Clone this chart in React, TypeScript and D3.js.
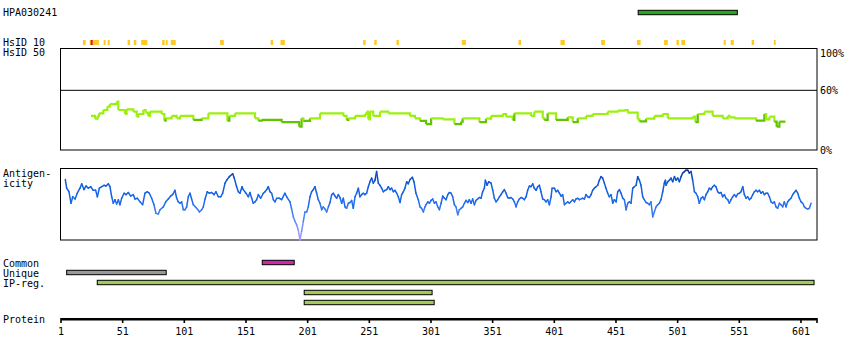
import * as d3 from 'd3'

// protein axis
const proteinTicks = [1, 51, 101, 151, 201, 251, 301, 351, 401, 451, 501, 551, 601]
const proteinEnd = 614

// HPA030241 antigen position
const antigenRange = [469, 549.4]

// HsID 10 hits (residue ranges)
const hsid10Yellow = [
  [18.8, 21], [24.3, 25.1], [26.7, 31.7], [35.6, 37.2], [38.8, 40.5], [55, 57], [60, 62], [66, 71],
  [83, 85], [86, 87.5], [90, 94], [130, 133], [171, 173], [179, 182.5], [246, 248], [255, 257],
  [273, 275], [326, 329.3], [372, 374], [406, 409.5], [439, 442], [468, 471], [490, 493],
  [500, 502], [504, 507], [538.4, 540], [544, 546.5], [561, 563], [579, 580.5]
]
const hsid10Red = [[25.1, 26.7]]

// HsID 50 identity trace (%), step values
const identityPos = [
  25.3, 28.6, 30.7, 31.8, 35.3, 38.6, 40.7, 46.1, 47.5, 52.9, 54.2, 59.6, 62.4, 63.7, 67.8, 69.6,
  71.8, 73.2, 82.6, 84.8, 85.9, 90.7, 94.8, 97.5, 108.3, 115.1, 120.5, 135.9, 137.5, 142.1, 158.3,
  161, 163.7, 179.9, 194.2, 196.1, 197.5, 202.9, 211, 229.9, 232.6, 234, 239.4, 247.5, 248.8,
  250.2, 251.5, 254.2, 259.6, 266.4, 284, 288, 292.1, 297, 301.1, 310.5, 320, 325.4, 326.7,
  340.2, 345.6, 349.7, 359.2, 361.9, 367.3, 368.6, 382.1, 384.8, 391.6, 392.9, 395.6, 402.4,
  411.9, 415.9, 420, 426.7, 432.1, 444.3, 452.4, 457.8, 460.5, 468.6, 470, 475.4, 482.1, 488.9,
  493, 513.2, 515.4, 517.3, 522.7, 529.4, 537.5, 541.6, 543, 547, 564.6, 571.3, 572.7, 575.4,
  579.4, 581.3, 583.5, 588.4
]
const identityVal = [
  34.2, 31.5, 34.2, 36.9, 40.2, 43.6, 46.2, 48.6, 40.2, 36.2, 40.9, 38.5, 33.5, 36.2, 40.2, 37.5,
  34.2, 38.5, 36.2, 29.5, 31.8, 34.2, 31.8, 34.2, 30.2, 31.8, 36.9, 29.5, 34.2, 36.9, 31.8,
  29.5, 30.2, 28.1, 23.4, 31.8, 29.2, 31.8, 36.9, 34.2, 30.2, 31.8, 34.2, 36.2, 38.5,
  30.8, 38.5, 34.2, 38.5, 36.9, 34.2, 31.8, 29.2, 26.1, 31.8, 30.8, 26.1, 28.5, 31.8,
  28.1, 31.5, 34.2, 36.2, 33.5, 30.2, 36.9, 34.2, 38.5, 31.8, 30.2, 36.9, 30.2,
  32.8, 28.1, 31.8, 34.2, 36.2, 38.5, 39.5, 40.2, 37.5, 30.8, 28.8, 31.5, 34.2, 36.2,
  31.8, 33.5, 28.1, 36.2, 38.5, 34.2, 31.8, 34.2, 32.8, 31.8, 29.5, 36.2, 30.8, 33.5,
  28.5, 23.4, 28.5, 28.5
]

// antigenicity trace (relative score 0-100)
const antigenPos = [
  4.5, 5.6, 7.5, 9.1, 10.5, 12.4, 14.2, 16.4, 17.8, 19.6, 21.3, 23.2, 25.1, 27.2, 29.1, 30.5, 32.1,
  34, 35.9, 37.5, 39.4, 40.7, 42.1, 43.4, 44.8, 46.1, 47.5, 48.8, 50.2, 52.1, 53.7, 55.6, 57.5,
  59.6, 61, 62.9, 65.1, 67.2, 69.1, 71, 72.6, 74.5, 76.4, 78, 79.9, 81.3, 84, 85.9, 88, 89.9,
  91.5, 93.4, 94.8, 96.1, 97.5, 98.8, 100.2, 101.5, 102.9, 104.2, 105.6, 106.9, 108.3, 111,
  113.2, 115.1, 116.4, 117.8, 119.6, 121.3, 123.2, 125.1, 126.7, 128.6, 130.5, 132.1, 134,
  135.3, 137.5, 140.2, 141.5, 143.4, 144.8, 146.1, 147.8, 148.8, 151, 152.9, 154.2, 155.6,
  156.9, 158.3, 159.6, 161, 162.9, 165.1, 166.4, 167.8, 169.1, 170.5, 171.8, 173.2, 174.5,
  175.9, 178, 179.9, 182.6, 184, 186.7, 188, 189.4, 190.7, 192.1, 193.4, 194.8, 196.1, 197.5,
  198.8, 200.2, 201.5, 202.9, 204.2, 205.6, 206.9, 208.3, 209.6, 211, 212.4, 213.7, 215.1,
  216.4, 217.8, 219.1, 220.5, 221.8, 223.2, 224.5, 225.9, 227.2, 228.6, 229.9, 231.3, 232.6,
  234, 235.3, 236.7, 238, 239.4, 240.7, 242.1, 243.4, 244.8, 246.1, 247.5, 248.8, 250.2,
  251.5, 252.9, 254.2, 255.6, 256.9, 258.3, 259.6, 261, 262.4, 263.7, 265.1, 266.4, 267.8,
  269.1, 270.5, 271.8, 273.2, 274.5, 275.9, 277.2, 278.6, 279.9, 281.3, 282.6, 284, 285.9,
  287.2, 288.8, 290.7, 292.1, 293.4, 294.8, 296.1,
  297, 298.4, 299.7, 301.1, 302.4, 303.8, 305.1, 306.5, 307.8, 309.2, 310.5, 311.9, 313.2,
  314.6, 315.9, 317.3, 318.6, 320, 321.3, 322.7, 324, 325.4, 326.7, 328.1, 329.4, 330.8,
  332.1, 333.5, 334.8, 336.2, 337.5, 338.9, 340.2, 341.6, 342.9, 344.3, 345.1, 346.5, 347.8,
  349.7, 351.1, 352.4, 353.8, 355.1, 356.5, 357.8, 359.2, 360.5, 361.9, 363.2, 364.6, 365.9,
  367.3, 368.6, 370, 371.3, 372.7, 374, 375.4, 376.7, 378.1, 379.4, 380.8, 382.1, 383.5,
  384.8, 386.2, 387.5, 388.9, 390.2, 391.6, 392.9, 394.3, 395.6, 397, 398.4, 399.2, 401.1,
  402.4, 403.8, 405.1, 406.5, 407.8, 409.2, 410.5, 411.9, 413.2, 415.9, 417.3, 418.6, 420,
  421.3, 424, 425.4, 426.7, 428.1, 429.4, 430.8, 432.1, 433.5, 434.8, 436.2, 437.5, 438.9,
  440.2, 441.6, 442.9, 444.3, 445.6, 447, 448.4, 449.7, 451.1, 452.4, 453.8, 455.1, 456.5,
  457.8, 459.2, 460.5, 461.9, 463.2, 464.6, 465.9, 467.3, 468.6, 470, 471.3, 472.7, 474,
  475.4, 476.7, 478.1, 479.4, 480.8, 482.1, 483.5, 484.8, 486.2, 487.5, 488.9, 490.2, 491.1,
  491.6, 493, 494.3, 495.6, 497, 498.4, 499.7, 501.1, 502.4, 503.8, 505.1, 506.5, 507.8,
  509.2, 510.5, 511.9, 513.2, 514.6, 515.9, 517.3, 518.6, 520, 521.3, 522.7, 524, 525.4,
  526.7, 528.1, 529.4, 530.8, 532.1, 533.5, 534.8, 536.2, 537.5, 538.9, 540.2, 541.6, 542.9,
  544.3, 545.6, 547, 548.4, 549.7, 551.1, 552.4, 553.8, 555.1, 556.5, 557.8, 559.2, 560.5,
  561.9, 563.2, 564.6, 565.9, 567.3, 568.6, 570, 571.3, 572.7, 574, 575.4, 576.7, 578.1,
  579.4, 580.8, 582.1, 583.5, 584.8, 586.2, 587.5, 588.9, 590.2, 591.6, 592.9, 594.3, 595.6,
  597, 598.4, 599.7, 601.1, 602.4, 603.8, 605.1, 606.5, 607.8, 609.2
]
const antigenVal = [
  84, 72, 67, 51, 60, 57, 65, 72, 78, 70, 75, 72, 74, 69, 69, 60, 72,
  74, 76, 75, 78, 74, 60, 51, 56, 50, 56, 49, 58, 65, 63, 66, 61,
  63, 57, 58, 53, 49, 65, 67, 65, 58, 49, 37, 36, 42, 46, 53, 57, 61,
  63, 69, 58, 53, 51, 53, 42, 42, 46, 60, 65, 57, 49, 44,
  39, 42, 46, 57, 67, 65, 66, 63, 67, 60, 60, 65, 79,
  83, 88, 92, 86, 74, 67, 65, 74, 70, 65, 60, 66, 58,
  51, 53, 56, 63, 58, 65, 67, 70, 74, 67, 65, 56, 53,
  58, 58, 56, 65, 60, 53, 43, 32, 26, 21, 14, 0, 12, 26,
  39, 39, 46, 60, 67, 70, 74, 65, 56, 51, 42, 46, 43,
  39, 46, 52, 63, 65, 61, 58, 63, 59, 51, 58, 46, 44,
  51, 52, 55, 44, 60, 65, 72, 60, 63, 65, 63, 65, 74,
  81, 86, 79, 83, 95, 79, 76, 72, 67, 69, 70, 74, 70,
  72, 67, 69, 65, 60, 52, 63, 67, 72, 81, 78, 84, 87,
  81, 65, 56, 46, 44, 39, 46,
  49, 53, 51, 55, 57, 51, 53, 46, 42, 51, 61, 58, 56,
  63, 66, 65, 60, 49, 46, 35, 42, 44, 46, 51, 55, 52,
  56, 51, 57, 49, 55, 57, 59, 58, 67, 72, 83, 76, 81,
  79, 69, 58, 53, 56, 60, 63, 67, 70, 65, 59, 58, 59,
  57, 53, 46, 53, 57, 59, 58, 56, 60, 69, 75, 74, 78,
  72, 69, 74, 76, 67, 57, 56, 53, 56, 49, 60, 72, 72,
  67, 69, 65, 61, 63, 49, 51, 53, 51, 56, 53, 57, 58,
  56, 58, 57, 63, 60, 59, 63, 69, 72, 74, 76, 83, 88,
  86, 79, 72, 65, 60, 63, 51, 56, 53, 67, 70, 65, 58,
  56, 42, 51, 53, 51, 72, 74, 76, 88, 83, 76, 60, 56,
  52, 51, 49, 53, 32, 39, 46, 49, 51, 56, 67, 79, 83,
  76, 81, 83, 86, 81, 88, 83, 86, 81, 88, 93, 95, 97,
  97, 93, 95, 83, 67, 65, 60, 51, 58, 60, 56, 63, 67,
  72, 70, 74, 76, 74, 67, 65, 66, 60, 63, 58, 56, 51,
  56, 60, 63, 60, 64, 65, 67, 74, 63, 58, 60, 56, 58,
  63, 67, 69, 67, 69, 65, 67, 63, 65, 65, 60, 53, 51,
  53, 46, 44, 51, 49, 46, 53, 46, 53, 56, 58, 63, 66,
  69, 65, 58, 53, 51, 46, 44, 43, 44, 51
]

// feature rows: [start, end]
const commonRegions = [[164.2, 190.1]]
const uniqueRegions = [[5.6, 86.3]]
const ipRegRows = [
  [[30.4, 611.6]],
  [[198.2, 301.9]],
  [[198.2, 303.6]]
]

const W = 850
const H = 360
const FONT = '"DejaVu Sans Mono", monospace'

export default function App() {
  const x = d3.scaleLinear().domain([1, proteinEnd]).range([61, 817])
  const yId = d3.scaleLinear().domain([0, 100]).range([150, 50.5])
  const yAg = d3.scaleLinear().domain([0, 100]).range([240, 168])
  const agColor = d3.scaleLinear<string>()
    .domain([0, 30, 55, 80, 100])
    .range(['#b0a0ff', '#4f86fa', '#1a68ea', '#0f5ad8', '#063590'])

  const idSegs = identityPos.slice(0, -1).map((p, i) => ({
    d: `M${x(p)},${yId(identityVal[i])}H${x(identityPos[i + 1])}V${yId(identityVal[i + 1])}`,
    dark: identityVal[i] < 30.5
  }))

  const agSegs = antigenPos.slice(0, -1).map((p, i) => ({
    x1: x(p), y1: yAg(antigenVal[i]),
    x2: x(antigenPos[i + 1]), y2: yAg(antigenVal[i + 1]),
    c: agColor((antigenVal[i] + antigenVal[i + 1]) / 2)
  }))

  const bar = (r: number[], y: number, fill: string, key: string) => (
    <rect key={key} x={x(r[0])} y={y} width={x(r[1]) - x(r[0])} height={4.4}
      fill={fill} stroke="#000" strokeWidth={1} />
  )

  const label = (t: string, lx: number, ly: number, anchor = 'start') => (
    <text x={lx} y={ly} textAnchor={anchor} fontFamily={FONT} fontSize={10} fill="#000">{t}</text>
  )

  return (
    <svg width={W} height={H} style={{ position: 'absolute', left: 0, top: 0, background: '#fff' }}>
      {label('HPA030241', 3, 16)}
      {bar(antigenRange, 10.3, '#22a81c', 'hpa')}

      {label('HsID 10', 3, 45.5)}
      {label('HsID 50', 3, 55.7)}
      {hsid10Yellow.map((r, i) => (
        <rect key={'y' + i} x={x(r[0])} y={40} width={Math.max(1.5, x(r[1]) - x(r[0]))} height={5} fill="#ffc825" />
      ))}
      {hsid10Red.map((r, i) => (
        <rect key={'r' + i} x={x(r[0])} y={40} width={x(r[1]) - x(r[0])} height={5} fill="#dd1010" />
      ))}

      {/* identity panel */}
      <rect x={60.5} y={48.5} width={756.5} height={101.5} fill="none" stroke="#000" strokeWidth={1} />
      <line x1={60.5} x2={817} y1={yId(60)} y2={yId(60)} stroke="#000" strokeWidth={1} />
      {idSegs.map((s, i) => (
        <path key={'id' + i} d={s.d} fill="none" stroke={s.dark ? '#62c400' : '#9cf010'} strokeWidth={2.2} />
      ))}
      {label('100%', 820, 56.5)}
      {label('60%', 820, 94)}
      {label('0%', 820, 153.5)}

      {/* antigenicity panel */}
      {label('Antigen-', 3, 177)}
      {label('icity', 3, 186.5)}
      <rect x={60.5} y={168.5} width={756.5} height={71.5} fill="none" stroke="#000" strokeWidth={1} />
      {agSegs.map((s, i) => (
        <line key={'ag' + i} x1={s.x1} y1={s.y1} x2={s.x2} y2={s.y2} stroke={s.c} strokeWidth={1.5} strokeLinecap="round" />
      ))}

      {/* features */}
      {label('Common', 3, 266.5)}
      {label('Unique', 3, 276.5)}
      {label('IP-reg.', 3, 286.5)}
      {commonRegions.map((r, i) => bar(r, 260.3, '#cc2aa8', 'c' + i))}
      {uniqueRegions.map((r, i) => bar(r, 270.3, '#999999', 'u' + i))}
      {ipRegRows.map((row, j) => row.map((r, i) => bar(r, 280.3 + j * 10, '#a3c957', 'ip' + j + '-' + i)))}

      {/* protein axis */}
      {label('Protein', 3, 323)}
      <line x1={x(1)} x2={x(proteinEnd)} y1={319.3} y2={319.3} stroke="#000" strokeWidth={2.6} />
      {proteinTicks.concat([proteinEnd]).map((t, i) => (
        <line key={'t' + i} x1={x(t)} x2={x(t)} y1={318} y2={323} stroke="#000" strokeWidth={1.6} />
      ))}
      {proteinTicks.map((t) => (
        <text key={'tl' + t} x={x(t)} y={335} textAnchor="middle" fontFamily={FONT} fontSize={10} fill="#000">{t}</text>
      ))}
    </svg>
  )
}
